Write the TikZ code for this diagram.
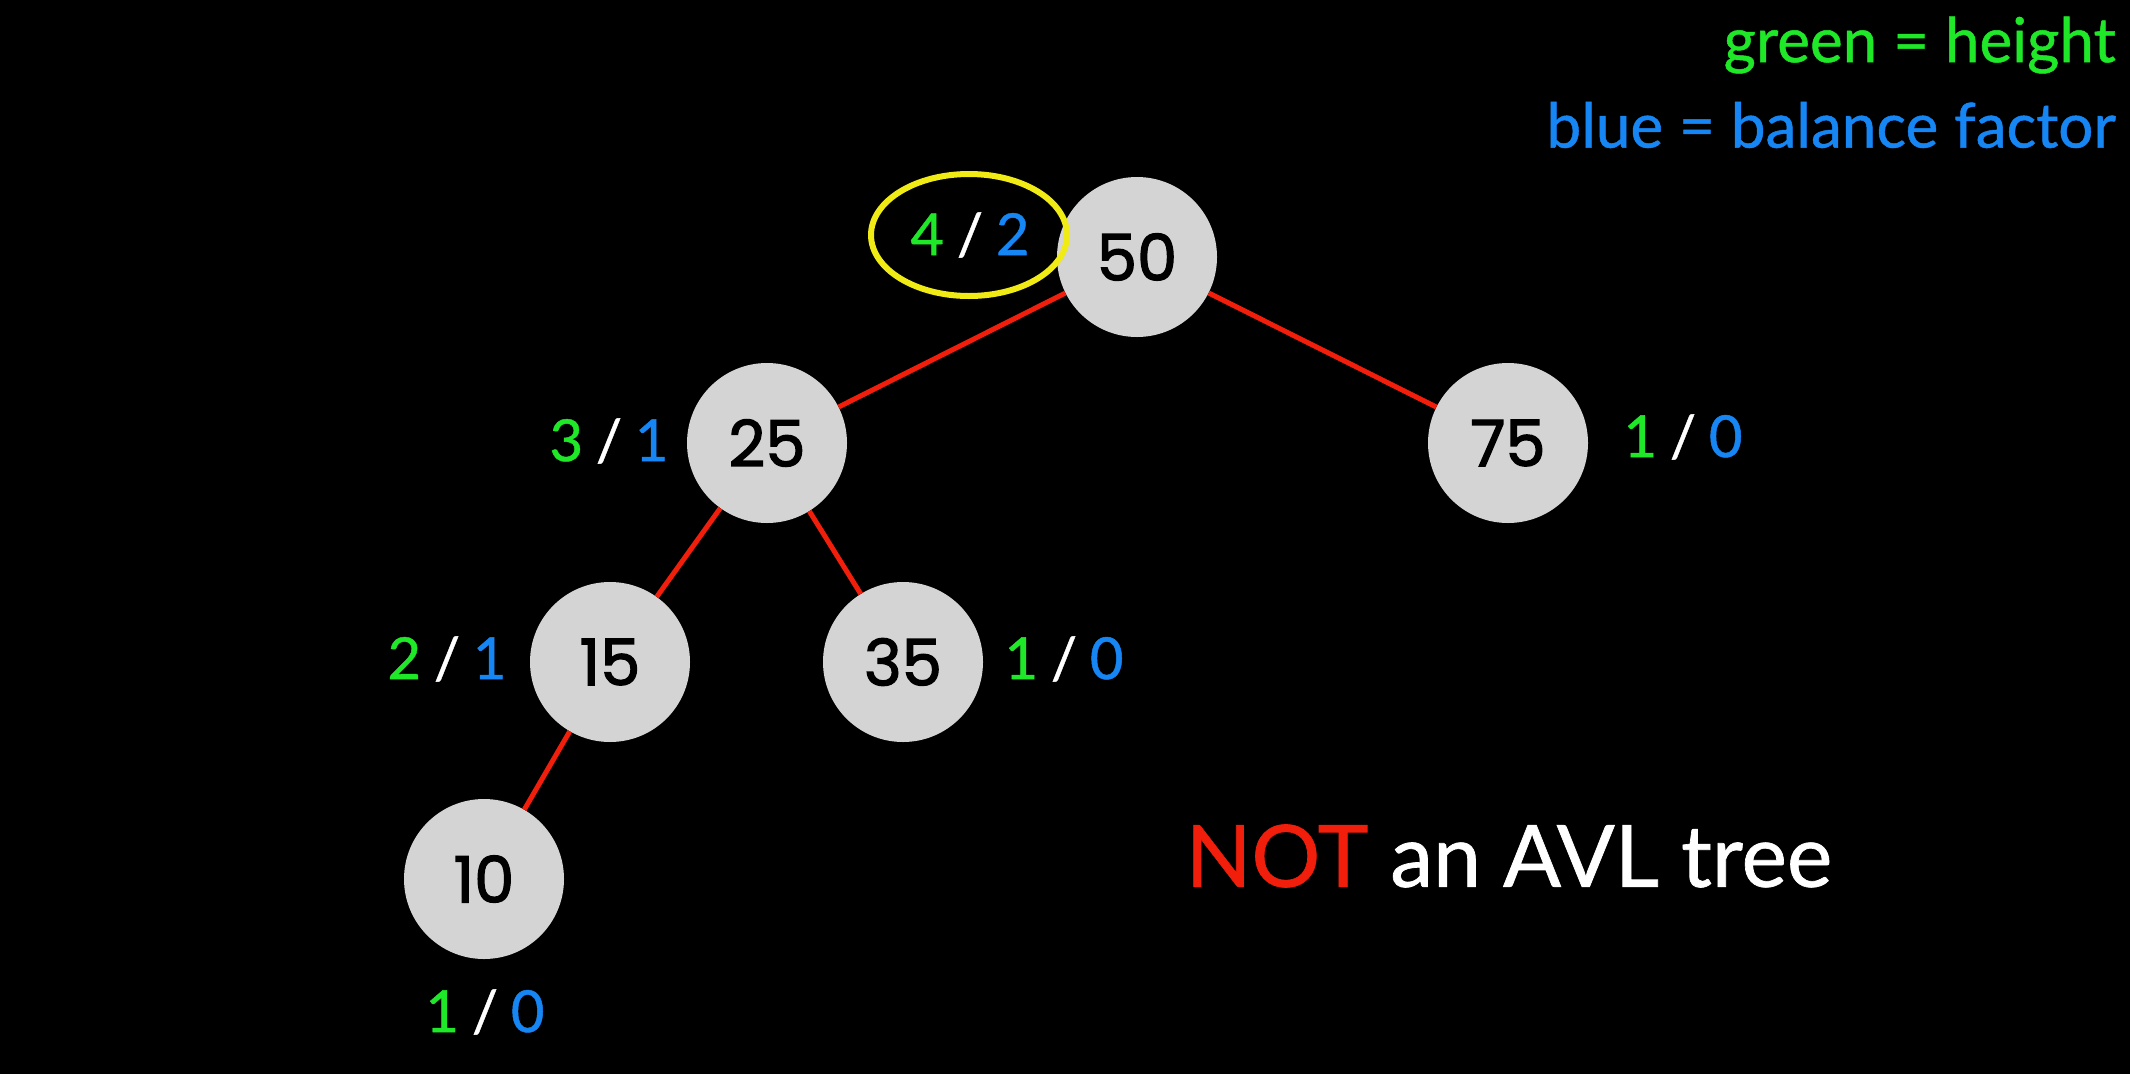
\documentclass[tikz,border=0pt]{standalone}
\usepackage{fontspec}
\usetikzlibrary{shapes.geometric}
\setmainfont{Lato}
\newfontfamily\numfont[FakeBold=2]{Poppins}
\newfontfamily\lblfont[FakeBold=0.8]{Lato}
\definecolor{hgreen}{RGB}{30,232,40}
\definecolor{bblue}{RGB}{22,134,245}
\definecolor{ered}{RGB}{240,30,10}
\definecolor{ngray}{RGB}{212,212,212}
\definecolor{hyellow}{RGB}{240,235,20}
\tikzset{
  treenode/.style={circle, fill=ngray, minimum size=160pt, inner sep=0pt,
    font=\numfont\fontsize{64}{70}\selectfont, text=black},
  edge/.style={draw=ered, line width=5pt},
  lbl/.style={font=\lblfont\fontsize{58}{64}\selectfont, inner sep=0pt},
  legend/.style={anchor=east, font=\lblfont\fontsize{62}{66}\selectfont, inner sep=0pt},
}
\newcommand{\hb}[2]{\textcolor{hgreen}{#1}\hspace{0.22em}\textcolor{white}{/}\hspace{0.22em}\textcolor{bblue}{#2}}
\begin{document}
\begin{tikzpicture}[x=1pt,y=-1pt]
\fill[black] (0,0) rectangle (2130,1074);
\useasboundingbox (0,0) rectangle (2130,1074);

\node[treenode] (n50) at (1137,257) {50};
\node[treenode] (n25) at (767,443) {25};
\node[treenode] (n75) at (1508,443) {75};
\node[treenode] (n15) at (610,662) {15};
\node[treenode] (n35) at (903,662) {35};
\node[treenode] (n10) at (484,879) {10};

\draw[edge] (n50) -- (n25);
\draw[edge] (n50) -- (n75);
\draw[edge] (n25) -- (n15);
\draw[edge] (n25) -- (n35);
\draw[edge] (n15) -- (n10);

\node[lbl] (l50) at (970,235) {\hb{4}{2}};
\node[lbl] (l25) at (609,441) {\hb{3}{1}};
\node[lbl] (l75) at (1683,437) {\hb{1}{0}};
\node[lbl] (l15) at (447,659) {\hb{2}{1}};
\node[lbl] (l35) at (1064,659) {\hb{1}{0}};
\node[lbl] (l10) at (485,1012) {\hb{1}{0}};

\node[draw=hyellow, line width=6pt, ellipse, minimum width=196pt, minimum height=122pt] (ring) at (969,235) {};

\node[legend, text=hgreen] (leg1) at (2116,45) {green = height};
\node[legend, text=bblue] (leg2) at (2116,125) {blue = balance factor};

\node[font=\lblfont\fontsize{86}{92}\selectfont, inner sep=0pt] (title) at (1509,856) {\textcolor{ered}{NOT} \textcolor{white}{an AVL tree}};
\end{tikzpicture}
\end{document}
